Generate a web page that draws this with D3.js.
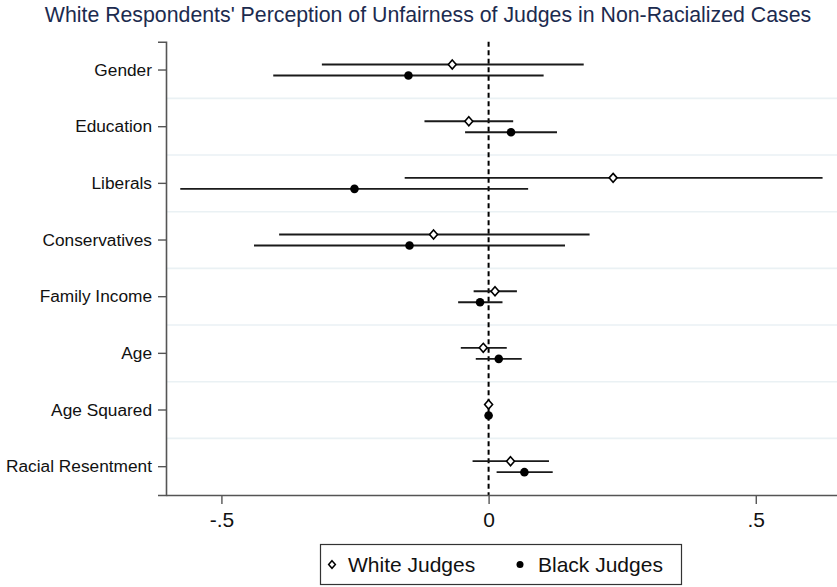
<!DOCTYPE html>
<html>
<head>
<meta charset="utf-8">
<script src="https://cdn.jsdelivr.net/npm/d3@7"></script>
<style>
  html, body { margin: 0; padding: 0; background: #fff; }
  svg { display: block; font-family: "Liberation Sans", Arial, sans-serif; }
</style>
</head>
<body>
<svg id="chart" width="837" height="587"></svg>
<script>
// Covariates, top to bottom
const categories = ["Gender", "Education", "Liberals", "Conservatives",
  "Family Income", "Age", "Age Squared", "Racial Resentment"];

// Coefficient estimates with 95% confidence bounds
const whiteEst = [-0.068, -0.037, 0.233, -0.103, 0.012, -0.010, 0.000, 0.041];
const whiteLo  = [-0.312, -0.120, -0.157, -0.392, -0.028, -0.052, -0.001, -0.030];
const whiteHi  = [0.178, 0.046, 0.625, 0.189, 0.053, 0.034, 0.001, 0.113];

const blackEst = [-0.150, 0.042, -0.251, -0.148, -0.016, 0.019, 0.000, 0.067];
const blackLo  = [-0.403, -0.044, -0.577, -0.439, -0.057, -0.024, -0.001, 0.015];
const blackHi  = [0.103, 0.128, 0.074, 0.143, 0.026, 0.062, 0.001, 0.120];

const xTicks = [-0.5, 0, 0.5];
const xTickLabels = ["-.5", "0", ".5"];
const seriesNames = ["White Judges", "Black Judges"];

const svg = d3.select("#chart");
const plotLeft = 166, plotRight = 837, plotTop = 41.7, plotBottom = 495;

const x = d3.scaleLinear().domain([-0.6037, 0.652]).range([plotLeft, plotRight]);
const y = d3.scaleBand().domain(categories).range([plotTop, plotBottom]).padding(0);
const bw = y.bandwidth();
const offset = 5.5;

// Squat diamond marker (slightly taller than wide)
const wideDiamond = {
  draw(ctx, size) {
    const h = Math.sqrt(size) * 0.75, w = h * 0.88;
    ctx.moveTo(0, -h); ctx.lineTo(w, 0); ctx.lineTo(0, h); ctx.lineTo(-w, 0); ctx.closePath();
  }
};

// Title
svg.append("text")
  .attr("x", 428).attr("y", 21.5)
  .attr("text-anchor", "middle")
  .attr("font-size", 21.3)
  .attr("fill", "#1c2b4f")
  .text("White Respondents' Perception of Unfairness of Judges in Non-Racialized Cases");

// Horizontal separators between covariates
svg.append("g").selectAll("line")
  .data(categories.slice(1))
  .join("line")
  .attr("x1", plotLeft).attr("x2", plotRight)
  .attr("y1", d => y(d)).attr("y2", d => y(d))
  .attr("stroke", "#eaf1f4").attr("stroke-width", 1.6);

// Reference line at zero
svg.append("line")
  .attr("x1", x(0)).attr("x2", x(0))
  .attr("y1", plotTop).attr("y2", plotBottom)
  .attr("stroke", "#000").attr("stroke-width", 2)
  .attr("stroke-dasharray", "5,3.5");

// Axes
const yAxis = d3.axisLeft(y).tickSize(8).tickPadding(6);
const gy = svg.append("g").attr("transform", `translate(${plotLeft},0)`).call(yAxis);
gy.select(".domain").attr("stroke", "#555").attr("stroke-width", 1.6);
gy.selectAll(".tick line").attr("stroke", "#555").attr("stroke-width", 1.4);
gy.selectAll(".tick text").attr("font-size", 17.3).attr("fill", "#111")
  .attr("font-family", "Liberation Sans, Arial, sans-serif");

const xAxis = d3.axisBottom(x).tickValues(xTicks)
  .tickFormat((d, i) => xTickLabels[i]).tickSize(9).tickPadding(8).tickSizeOuter(0);
const gx = svg.append("g").attr("transform", `translate(0,${plotBottom})`).call(xAxis);
gx.select(".domain").attr("stroke", "#555").attr("stroke-width", 1.6);
gx.selectAll(".tick line").attr("stroke", "#555").attr("stroke-width", 1.4);
gx.selectAll(".tick text").attr("font-size", 21).attr("fill", "#111")
  .attr("font-family", "Liberation Sans, Arial, sans-serif");

// Build series rows
const rows = categories.map((c, i) => ({
  c,
  white: { est: whiteEst[i], lo: whiteLo[i], hi: whiteHi[i] },
  black: { est: blackEst[i], lo: blackLo[i], hi: blackHi[i] }
}));

const cy = (c, s) => y(c) + bw / 2 + (s === "white" ? -offset : offset);

const marks = svg.append("g");
["white", "black"].forEach(s => {
  marks.append("g").selectAll("line")
    .data(rows)
    .join("line")
    .attr("x1", d => x(d[s].lo)).attr("x2", d => x(d[s].hi))
    .attr("y1", d => cy(d.c, s)).attr("y2", d => cy(d.c, s))
    .attr("stroke", "#1a1a1a").attr("stroke-width", 1.9);
});

const diamond = d3.symbol().type(wideDiamond).size(36);
marks.append("g").selectAll("path")
  .data(rows)
  .join("path")
  .attr("d", diamond)
  .attr("transform", d => `translate(${x(d.white.est)},${cy(d.c, "white")})`)
  .attr("fill", "#fff").attr("stroke", "#000").attr("stroke-width", 1.6);

marks.append("g").selectAll("circle")
  .data(rows)
  .join("circle")
  .attr("cx", d => x(d.black.est)).attr("cy", d => cy(d.c, "black"))
  .attr("r", 4.3).attr("fill", "#000");

// Legend
const lg = svg.append("g");
lg.append("rect")
  .attr("x", 320.5).attr("y", 544.5).attr("width", 361).attr("height", 40)
  .attr("fill", "#fff").attr("stroke", "#333").attr("stroke-width", 1.2);
lg.append("path")
  .attr("d", d3.symbol().type(wideDiamond).size(26))
  .attr("transform", "translate(332,564.5)")
  .attr("fill", "#fff").attr("stroke", "#000").attr("stroke-width", 1.5);
lg.append("text").attr("x", 348).attr("y", 572)
  .attr("font-size", 21).attr("fill", "#111").text(seriesNames[0]);
lg.append("circle").attr("cx", 520).attr("cy", 564.5).attr("r", 3.5).attr("fill", "#000");
lg.append("text").attr("x", 538).attr("y", 572)
  .attr("font-size", 21).attr("fill", "#111").text(seriesNames[1]);
</script>
</body>
</html>
